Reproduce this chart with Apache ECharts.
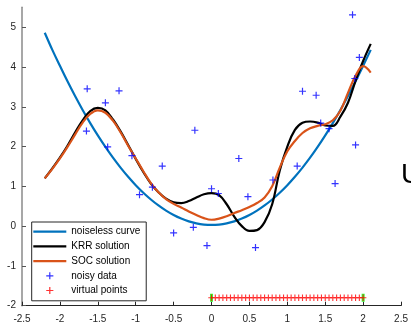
<!DOCTYPE html>
<html><head><meta charset="utf-8">
<script src="https://cdn.jsdelivr.net/npm/echarts@6/dist/echarts.min.js"></script>
<style>html,body{margin:0;padding:0;background:#fff}#c{width:411px;height:326px}</style>
</head><body><div id="c"></div>
<script>
// Curve sample x positions
var curveX = [-2.2,-2.1,-2.0,-1.9,-1.8,-1.7,-1.6,-1.5,-1.4,-1.3,-1.2,-1.1,-1.0,-0.9,-0.8,-0.7,-0.6,-0.5,-0.4,-0.3,-0.2,-0.1,0.0,0.1,0.2,0.3,0.4,0.5,0.6,0.7,0.8,0.9,1.0,1.1,1.2,1.3,1.4,1.5,1.6,1.7,1.8,1.9,2.0,2.1];
var noiselessY = [4.86,4.43,4.03,3.64,3.27,2.92,2.59,2.28,1.99,1.72,1.47,1.24,1.03,0.84,0.67,0.52,0.39,0.28,0.19,0.12,0.07,0.04,0.03,0.04,0.07,0.12,0.19,0.28,0.39,0.52,0.67,0.84,1.03,1.24,1.47,1.72,1.99,2.28,2.59,2.92,3.27,3.64,4.03,4.43];
var krrY = [1.20,1.45,1.72,2.02,2.35,2.66,2.89,2.97,2.91,2.68,2.38,2.04,1.69,1.36,1.07,0.85,0.69,0.60,0.58,0.63,0.72,0.80,0.83,0.78,0.55,0.24,0.00,-0.12,-0.10,0.10,0.55,1.40,2.00,2.42,2.60,2.63,2.60,2.53,2.52,2.75,3.10,3.65,4.15,4.58];
var socY = [1.20,1.44,1.70,1.99,2.30,2.60,2.82,2.91,2.85,2.65,2.36,2.02,1.70,1.38,1.08,0.85,0.68,0.56,0.47,0.37,0.28,0.20,0.16,0.19,0.25,0.33,0.40,0.48,0.58,0.72,1.00,1.47,1.88,2.14,2.34,2.46,2.52,2.56,2.66,2.90,3.35,3.78,4.02,3.86];
// Noisy data
var noisyX = [1.86,1.95,1.89,1.20,1.38,-1.64,-1.40,-1.22,-1.65,-1.37,-1.05,-0.95,-0.22,-0.65,0.36,-0.78,0.00,0.09,0.48,-0.50,-0.24,-0.06,0.58,1.44,1.55,1.90,1.13,0.81,1.63];
var noisyY = [5.31,4.24,3.71,3.39,3.29,3.45,3.10,3.40,2.39,1.99,1.77,0.79,2.41,1.51,1.70,0.98,0.94,0.82,0.74,-0.17,-0.03,-0.49,-0.54,2.59,2.45,2.04,1.51,1.16,1.07];
// Virtual points
var virtualX = [0,0.05,0.1,0.15,0.2,0.25,0.3,0.35,0.4,0.45,0.5,0.55,0.6,0.65,0.7,0.75,0.8,0.85,0.9,0.95,1.0,1.05,1.1,1.15,1.2,1.25,1.3,1.35,1.4,1.45,1.5,1.55,1.6,1.65,1.7,1.75,1.8,1.85,1.9,1.95,2.0];
var virtualLevel = -1.8;
var virtualEnds = [0, 2];
// Axes
var xTicks = [-2.5,-2,-1.5,-1,-0.5,0,0.5,1,1.5,2,2.5];
var yTicks = [-2,-1,0,1,2,3,4,5];
var legendNames = ['noiseless curve','KRR solution','SOC solution','noisy data','virtual points'];

function pairs(xs, ys){ return xs.map(function(x,i){return [x, ys[i]];}); }
var plus = 'path://M-0.17,-1H0.17V1H-0.17Z M-1,-0.17H1V0.17H-1Z';
var plusLegend = 'path://M-0.17,-1H0.17V1H-0.17Z M-1,-0.17H1V0.17H-1Z M-1.4,-1.4h0.001v0.001Z M1.4,1.4h-0.001v-0.001Z';
var bar = 'path://M0,0H33V2.3H0Z';
var font = 'Liberation Sans, Arial, Helvetica, sans-serif';
var cBlue = '#0072BD', cOrange = '#D95319';

var chart = echarts.init(document.getElementById('c'), null, {renderer:'canvas'});
chart.setOption({
  animation:false,
  backgroundColor:'#fff',
  textStyle:{fontFamily:font},
  grid:{left:22, right:9.3, top:7.3, bottom:20.3, containLabel:false},
  xAxis:{type:'value', min:xTicks[0], max:xTicks[xTicks.length-1], interval:0.5,
    axisLine:{onZero:false, lineStyle:{color:'#262626', width:1}},
    axisTick:{inside:true, length:4, lineStyle:{color:'#262626'}},
    axisLabel:{color:'#262626', fontSize:10, margin:9, fontFamily:font,
      formatter:function(v){return String(Math.round(v*10)/10);}},
    splitLine:{show:false}},
  yAxis:{type:'value', min:yTicks[0], max:5.5, interval:1,
    axisLine:{show:true, onZero:false, lineStyle:{color:'#8a8a8a', width:1.5}},
    axisTick:{show:true, inside:true, length:4, lineStyle:{color:'#555'}},
    axisLabel:{color:'#262626', fontSize:10, margin:6, showMaxLabel:false, fontFamily:font},
    splitLine:{show:false}},
  legend:{
    data:[
      {name:legendNames[0], icon:bar, itemStyle:{color:cBlue, borderWidth:0}},
      {name:legendNames[1], icon:bar, itemStyle:{color:'#000', borderWidth:0}},
      {name:legendNames[2], icon:bar, itemStyle:{color:cOrange, borderWidth:0}},
      {name:legendNames[3], icon:plusLegend, itemStyle:{color:'#0000ff'}},
      {name:legendNames[4], icon:plusLegend, itemStyle:{color:'#ff0000'}}
    ],
    orient:'vertical', left:31.7, top:222, itemWidth:33, itemHeight:10, itemGap:4.7,
    padding:[4.7,6,5.3,1.6], borderColor:'#262626', borderWidth:1, backgroundColor:'#fff',
    symbolKeepAspect:true,
    textStyle:{fontSize:10, color:'#000', fontFamily:font}
  },
  graphic:[{type:'text', x:401, y:175, style:{text:'U', fontSize:28, fontFamily:font, fill:'#000', verticalAlign:'middle', align:'left'}, z:100}],
  series:[
    {name:legendNames[0], type:'line', data:pairs(curveX, noiselessY), smooth:0.4, symbol:'none', lineStyle:{color:cBlue, width:2.2}, itemStyle:{color:cBlue}, z:3},
    {name:legendNames[1], type:'line', data:pairs(curveX, krrY), smooth:0.4, symbol:'none', lineStyle:{color:'#000000', width:2.2}, itemStyle:{color:'#000'}, z:4},
    {name:legendNames[2], type:'line', data:pairs(curveX, socY), smooth:0.4, symbol:'none', lineStyle:{color:cOrange, width:2.2}, itemStyle:{color:cOrange}, z:5},
    {name:legendNames[3], type:'scatter', data:pairs(noisyX, noisyY), symbol:plus, symbolSize:7, symbolKeepAspect:true, itemStyle:{color:'#0000ff'}, z:6},
    {name:'ends', type:'scatter', data:virtualEnds.map(function(x){return [x, virtualLevel];}), symbol:'rect', symbolSize:[3,8], itemStyle:{color:'#00ff00'}, z:6},
    {name:legendNames[4], type:'scatter', data:virtualX.map(function(x){return [x, virtualLevel];}), symbol:plus, symbolSize:6.5, symbolKeepAspect:true, itemStyle:{color:'#ff0000'}, z:7}
  ]
});
</script></body></html>
